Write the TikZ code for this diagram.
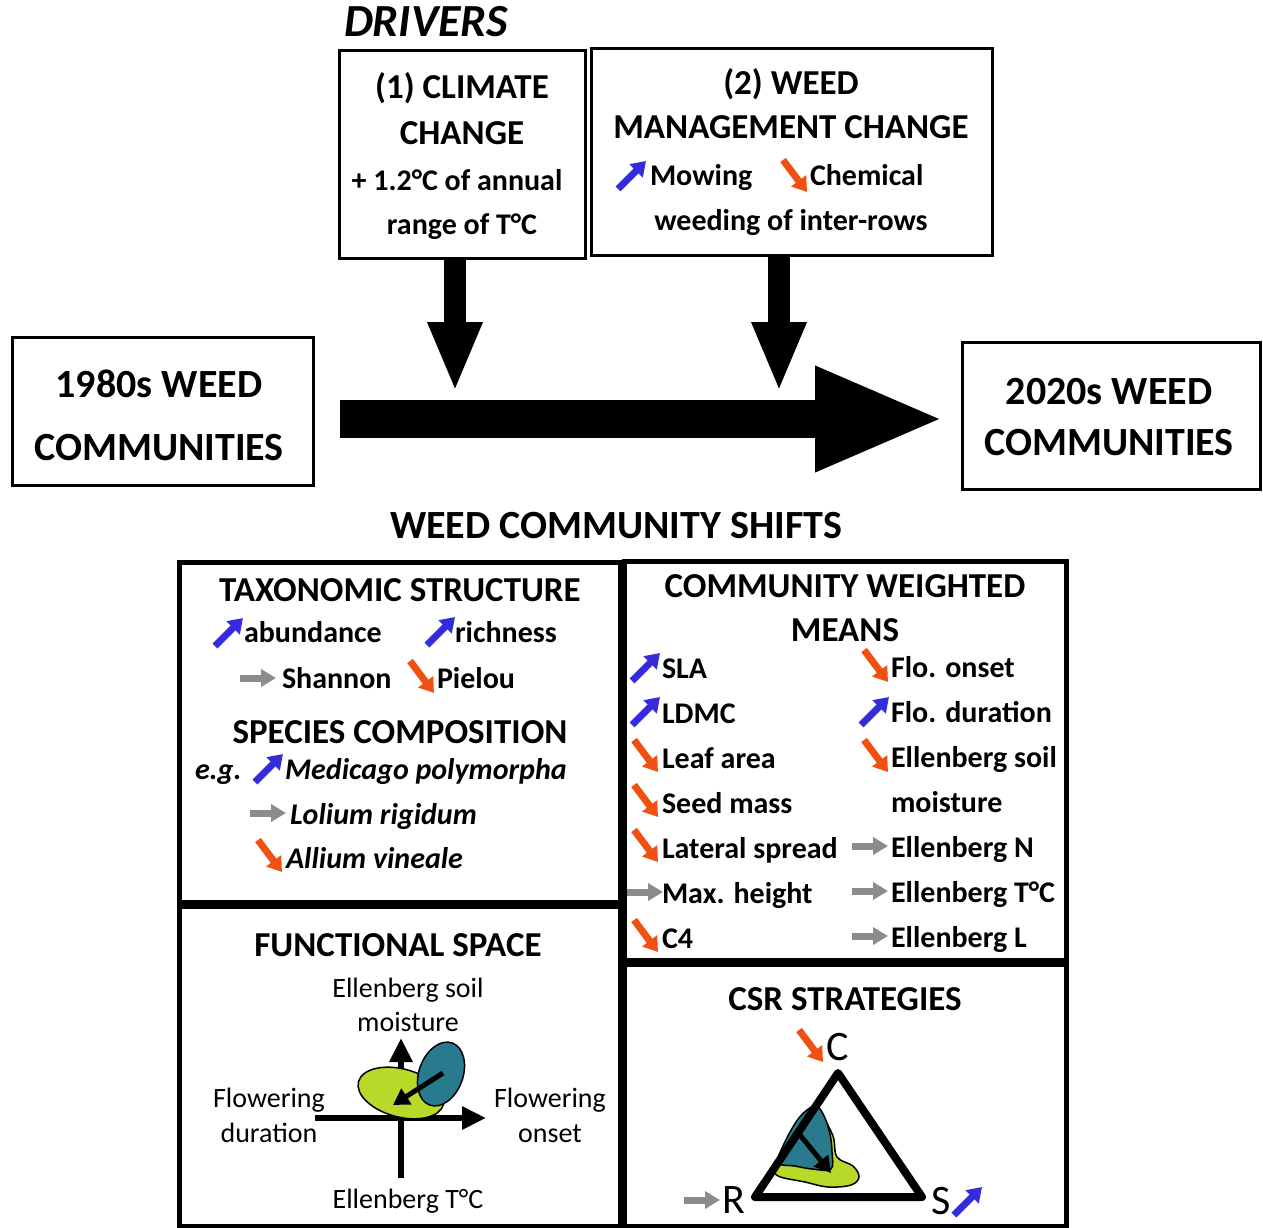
\documentclass[tikz,border=0pt]{standalone}
\usepackage{fontspec}
\setmainfont{Carlito}
\usetikzlibrary{arrows.meta}
\definecolor{blueA}{RGB}{52,44,220}
\definecolor{orangeA}{RGB}{240,80,16}
\definecolor{grayA}{RGB}{140,140,140}
\definecolor{tealC}{RGB}{42,122,142}
\definecolor{limeC}{RGB}{184,216,42}
\begin{document}
\begin{tikzpicture}[x=1pt,y=-1pt,
  every node/.style={inner sep=0pt, outer sep=0pt},
  topbox/.style={draw, line width=3pt},
  panel/.style={draw, line width=5pt},
  hd/.style={font=\fontsize{35}{42}\selectfont\bfseries, anchor=base},
  it/.style={font=\fontsize{30}{36}\selectfont\bfseries, anchor=base west},
  itc/.style={font=\fontsize{30}{36}\selectfont\bfseries, anchor=base},
  sp/.style={font=\fontsize{30}{36}\selectfont\bfseries\itshape, anchor=base west},
  lab/.style={font=\fontsize{28}{34}\selectfont, anchor=base},
  bigt/.style={font=\fontsize{40}{48}\selectfont\bfseries, anchor=base},
  csrl/.style={font=\fontsize{42}{48}\selectfont},
  bigdn/.style={line width=22pt, -{Triangle[length=70pt,width=50pt]}},
  bigright/.style={line width=38pt, -{Triangle[length=130pt,width=96pt]}},
  axis/.style={line width=6pt, -{Triangle[length=24pt,width=22pt]}},
  blobarrow/.style={line width=5pt, -{Triangle[length=16pt,width=18pt]}},
  upic/.pic={\draw[draw=blueA, line width=7pt, -{Triangle[length=14pt,width=18pt]}] (-14,14) -- (14,-14);},
  dnic/.pic={\draw[draw=orangeA, line width=7pt, -{Triangle[length=14pt,width=18pt]}] (-12,-16) -- (12,16);},
  rtic/.pic={\draw[draw=grayA, line width=7pt, -{Triangle[length=15pt,width=17pt]}] (-18,0) -- (18,0);}
]
\useasboundingbox (0,0) rectangle (1263,1228);

% ---------- drivers ----------
\node[font=\fontsize{46}{52}\selectfont\bfseries\itshape, anchor=base west] (drv) at (344,37) {DRIVERS};

\node[topbox, minimum width=246pt, minimum height=207pt] (clim) at (462,154.5) {};
\node[hd] (c1) at (462,99) {(1) CLIMATE};
\node[hd] (c2) at (462,144) {CHANGE};
\node[itc] (c3) at (457,190) {+ 1.2°C of annual};
\node[itc] (c4) at (462,234) {range of T°C};

\node[topbox, minimum width=401pt, minimum height=206pt] (mgmt) at (791.5,152) {};
\node[hd] (m1) at (791,95) {(2) WEED};
\node[hd] (m2) at (791,139) {MANAGEMENT CHANGE};
\pic at (632,175) {upic};
\node[it] (m3) at (650,185) {Mowing};
\pic at (795,176) {dnic};
\node[it] (m4) at (810,185) {Chemical};
\node[itc] (m5) at (791,230) {weeding of inter-rows};

% ---------- communities ----------
\node[topbox, minimum width=301pt, minimum height=148pt] (old) at (162.5,411) {};
\node[bigt] (o1) at (159,397) {1980s WEED};
\node[bigt] (o2) at (159,460) {COMMUNITIES};

\node[topbox, minimum width=298pt, minimum height=147pt] (new) at (1111,415.5) {};
\node[bigt] (n1) at (1109,404) {2020s WEED};
\node[bigt] (n2) at (1109,455) {COMMUNITIES};

\coordinate (ms) at (340,419);
\coordinate (me) at (945,419);
\draw[bigright] (ms) -- (me);

\coordinate (t1) at (455,392);
\coordinate (t2) at (779,392);
\draw[bigdn] (t1 |- clim.south) -- (t1);
\draw[bigdn] (t2 |- mgmt.south) -- (t2);

\node[bigt] (shifts) at (616,538) {WEED COMMUNITY SHIFTS};

% ---------- panels ----------
\draw[panel] (179,562) rectangle (620,902);
\draw[panel] (624,561) rectangle (1066,960);
\draw[panel] (179,906) rectangle (620,1226);
\draw[panel] (624,964) rectangle (1066,1226);

% taxonomic
\node[hd] (tx) at (400,601) {TAXONOMIC STRUCTURE};
\pic at (229,632) {upic};
\node[it] (ab) at (244,642) {abundance};
\pic at (441,631) {upic};
\node[it] (ri) at (455,642) {richness};
\pic at (258,678) {rtic};
\node[it] (sh) at (282,688) {Shannon};
\pic at (422,677) {dnic};
\node[it] (pi) at (437,688) {Pielou};
\node[hd] (spc) at (400,743) {SPECIES COMPOSITION};
\node[sp] (eg) at (195,779) {e.g.};
\pic at (269,768) {upic};
\node[sp] (med) at (285,779) {Medicago polymorpha};
\pic at (268,813) {rtic};
\node[sp] (lol) at (290,824) {Lolium rigidum};
\pic at (270,856) {dnic};
\node[sp] (all) at (286,868) {Allium vineale};

% CWM
\node[hd] (cw1) at (845,597) {COMMUNITY WEIGHTED};
\node[hd] (cw2) at (845,641) {MEANS};
\pic at (646,667) {upic};
\node[it] (l1) at (662,678) {SLA};
\pic at (646,711) {upic};
\node[it] (l2) at (662,723) {LDMC};
\pic at (646,756) {dnic};
\node[it] (l3) at (662,768) {Leaf area};
\pic at (646,801) {dnic};
\node[it] (l4) at (662,813) {Seed mass};
\pic at (646,846) {dnic};
\node[it] (l5) at (662,858) {Lateral spread};
\pic at (645,892) {rtic};
\node[it] (l6) at (662,903) {Max. height};
\pic at (646,936) {dnic};
\node[it] (l7) at (662,948) {C4};

\pic at (876,666) {dnic};
\node[it] (r1) at (891,677) {Flo. onset};
\pic at (875,711) {upic};
\node[it] (r2) at (891,722) {Flo. duration};
\pic at (876,756) {dnic};
\node[it] (r3) at (891,767) {Ellenberg soil};
\node[it] (r4) at (891,812) {moisture};
\pic at (870,846) {rtic};
\node[it] (r5) at (891,857) {Ellenberg N};
\pic at (870,891) {rtic};
\node[it] (r6) at (891,902) {Ellenberg T°C};
\pic at (870,936) {rtic};
\node[it] (r7) at (891,947) {Ellenberg L};

% functional space
\node[hd] (fs) at (398,956) {FUNCTIONAL SPACE};
\node[lab] (fy1) at (408,997) {Ellenberg soil};
\node[lab] (fy2) at (408,1031) {moisture};
\node[lab] (fl1) at (269,1107) {Flowering};
\node[lab] (fl2) at (269,1142) {duration};
\node[lab] (fr1) at (550,1107) {Flowering};
\node[lab] (fr2) at (550,1142) {onset};
\node[lab] (fb) at (408,1208) {Ellenberg T°C};
\coordinate (hs) at (315,1118);
\coordinate (he) at (486,1118);
\coordinate (vs) at (401,1178);
\coordinate (ve) at (401,1038);
\draw[axis] (hs) -- (he);
\draw[axis] (vs) -- (ve);
\draw[fill=limeC, line width=1.5pt, rotate around={-15:(401,1093)}] (401,1093) ellipse [x radius=44pt, y radius=24pt];
\draw[fill=tealC, line width=1.5pt, rotate around={-20:(441,1074)}] (441,1074) ellipse [x radius=22pt, y radius=33pt];
\coordinate (fa1) at (443,1073);
\coordinate (fa2) at (393,1105);
\draw[blobarrow] (fa1) -- (fa2);

% CSR
\node[hd] (csr) at (845,1010) {CSR STRATEGIES};
\coordinate (kc) at (838,1073);
\coordinate (kr) at (755,1197);
\coordinate (ks) at (922,1197);
\draw[fill=limeC, line width=1.5pt] plot[smooth cycle, tension=0.6] coordinates {(822,1120) (833,1136) (837,1157) (853,1166) (859,1177) (851,1185) (828,1187) (805,1182) (778,1176) (774,1166) (790,1160) (815,1150)};
\draw[fill=tealC, line width=1.5pt] plot[smooth cycle, tension=0.6] coordinates {(817,1106) (825,1118) (830,1134) (832,1152) (831,1169) (812,1169) (795,1166) (778,1163) (783,1146) (796,1122) (807,1110)};
\draw[line width=8pt, line join=round] (kc) -- (kr) -- (ks) -- cycle;
\coordinate (ca1) at (800,1135);
\coordinate (ca2) at (831,1173);
\draw[blobarrow] (ca1) -- (ca2);
\node[csrl] (lc) at (838,1047) {C};
\node[csrl] (lr) at (734,1200) {R};
\node[csrl] (ls) at (941,1201) {S};
\pic at (811,1046) {dnic};
\pic at (702,1200) {rtic};
\pic at (968,1201) {upic};
\end{tikzpicture}
\end{document}
